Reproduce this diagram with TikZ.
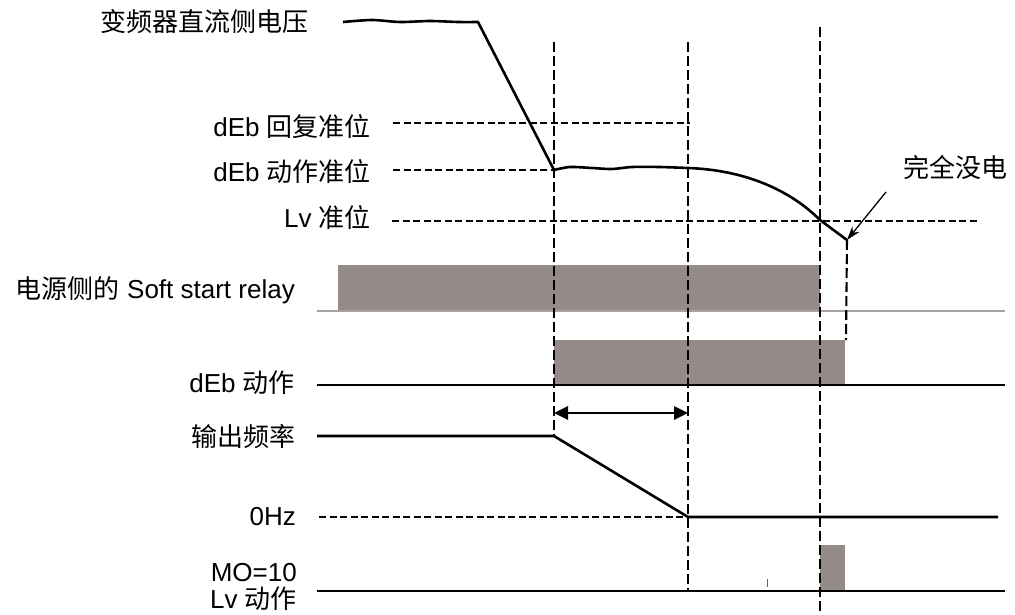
\documentclass[tikz,border=0pt]{standalone}
\usepackage{fontspec}
\setmainfont{Liberation Sans}
\newfontfamily\cjk{Noto Sans CJK SC}
\usetikzlibrary{arrows.meta}
\definecolor{boxgray}{RGB}{148,139,137}
\tikzset{
  lbl/.style={anchor=east,inner sep=0pt,font=\fontsize{26}{28}\selectfont},
  sig/.style={line width=2.6pt,black,line join=round},
  hdash/.style={line width=2.4pt,dash pattern=on 7pt off 3.5pt},
  vdash/.style={line width=2.1pt,dash pattern=on 10pt off 4pt},
  pulse/.style={fill=boxgray,draw=none},
  base/.style={line width=2.4pt,black},
  thinbase/.style={line width=1.2pt,boxgray!80},
}
\begin{document}
\begin{tikzpicture}[x=1pt,y=-1pt]
\useasboundingbox (0,0) rectangle (1015,614);
% labels
\node[lbl] (tV) at (309,22) {{\cjk 变频器直流侧电压}};
\node[lbl] (tRec) at (371,127) {dEb {\cjk 回复准位}};
\node[lbl] (tAct) at (371,172) {dEb {\cjk 动作准位}};
\node[lbl] (tLv) at (371,218) {Lv {\cjk 准位}};
\node[lbl] (tRel) at (295,290) {{\cjk 电源侧的} Soft start relay};
\node[lbl] (tDeb) at (295,383) {dEb {\cjk 动作}};
\node[lbl] (tFreq) at (296,437) {{\cjk 输出频率}};
\node[lbl] (tHz) at (296,517) {0Hz};
\node[lbl] (tMO) at (297,573) {MO=10};
\node[lbl] (tLva) at (297,599) {Lv {\cjk 动作}};
\node[lbl,anchor=west] (tOff) at (903,167) {{\cjk 完全没电}};
% key coordinates
\coordinate (vA) at (554,42);
\coordinate (vB) at (688,42);
\coordinate (vC) at (820,27);
\coordinate (vEnd) at (847,240);
\coordinate (arS) at (886,192);
\coordinate (dL) at (554,413);
\coordinate (dR) at (688,413);
% pulses
\fill[pulse] (338,265) rectangle (820,310);
\fill[pulse] (554,340) rectangle (845,384);
\fill[pulse] (820,545) rectangle (845,590);
% baselines
\draw[thinbase] (317,311) -- (1005,311);
\draw[base] (317,385) -- (1005,385);
\draw[base] (317,591) -- (1005,591);
% horizontal dashed levels
\draw[hdash] (393,123) -- (690,123);
\draw[hdash] (393,170) -- (554,170);
\draw[hdash] (392,221) -- (980,221);
\draw[hdash] (319,517) -- (688,517);
% vertical dashed lines
\draw[vdash] (vA) -- (554,436);
\draw[vdash] (vB) -- (688,590);
\draw[vdash] (vC) -- (820,614);
\draw[vdash] (vEnd) -- (846,340);
% DC bus voltage
\draw[sig] plot[smooth,tension=0.5] coordinates {(343,22) (372,20) (400,22) (430,21) (458,22) (478,22)}
  -- (554,170)
  plot[smooth,tension=0.5] coordinates {(554,170) (570,167) (592,168) (612,169) (632,167) (660,167) (688,168)}
  (688,168) .. controls (745,170) and (790,190) .. (820,220) -- (vEnd);
% arrow to end
\draw[line width=1.3pt,-{Stealth[length=14pt,width=9pt]}] (arS) -- (vEnd);
% double arrow
\draw[line width=2.8pt,{Triangle[length=14pt,width=13pt]}-{Triangle[length=14pt,width=13pt]}] (dL) -- (dR);
% output frequency
\draw[sig] (317,436) -- (554,436) -- (688,517) -- (998,517);
% small tick artifact
\draw[line width=1pt,black!60] (767,579) -- (767,587);
\end{tikzpicture}
\end{document}
